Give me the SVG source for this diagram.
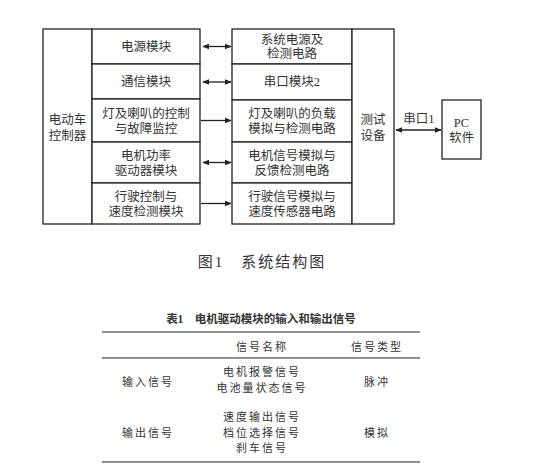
<svg xmlns="http://www.w3.org/2000/svg" width="539" height="476" viewBox="0 0 539 476">
<style>
.b{fill:#fff;stroke:#222;stroke-width:1.3}
.t{font-family:"Liberation Serif","Noto Sans CJK SC",serif;font-size:12.5px;fill:#333;text-anchor:middle}
.tb{font-family:"Liberation Serif","Noto Sans CJK SC",sans-serif;font-size:11px;fill:#333;text-anchor:middle}
.c{stroke:#222;stroke-width:1.3;fill:none}
.r{stroke:#222;stroke-width:1.2}
</style>
<defs>
<marker id="ah" viewBox="0 0 10 10" refX="9" refY="5" markerWidth="7" markerHeight="7" orient="auto-start-reverse" markerUnits="userSpaceOnUse"><path d="M0,1 L10,5 L0,9 z" fill="#222"/></marker>
</defs>
<rect width="539" height="476" fill="#fff"/>
<g id="controller">
<rect class="b" x="43" y="29" width="49" height="195"/>
<text class="t" x="67.5" y="124">电动车</text>
<text class="t" x="67.5" y="140">控制器</text>
</g>
<g id="modules">
<rect class="b" x="92" y="29" width="108" height="35"/>
<text class="t" x="146" y="51">电源模块</text>
<rect class="b" x="92" y="64" width="108" height="35"/>
<text class="t" x="146" y="86">通信模块</text>
<rect class="b" x="92" y="99" width="108" height="43"/>
<text class="t" x="146" y="118">灯及喇叭的控制</text>
<text class="t" x="146" y="133">与故障监控</text>
<rect class="b" x="92" y="142" width="108" height="41"/>
<text class="t" x="146" y="160">电机功率</text>
<text class="t" x="146" y="175">驱动器模块</text>
<rect class="b" x="92" y="183" width="108" height="41"/>
<text class="t" x="146" y="201">行驶控制与</text>
<text class="t" x="146" y="216">速度检测模块</text>
</g>
<g id="circuits">
<rect class="b" x="232" y="29" width="120" height="35"/>
<text class="t" x="292" y="44">系统电源及</text>
<text class="t" x="292" y="58">检测电路</text>
<rect class="b" x="232" y="64" width="120" height="36"/>
<text class="t" x="292" y="86">串口模块2</text>
<rect class="b" x="232" y="100" width="120" height="42"/>
<text class="t" x="292" y="118">灯及喇叭的负载</text>
<text class="t" x="292" y="133">模拟与检测电路</text>
<rect class="b" x="232" y="142" width="120" height="41"/>
<text class="t" x="292" y="160">电机信号模拟与</text>
<text class="t" x="292" y="175">反馈检测电路</text>
<rect class="b" x="232" y="183" width="120" height="41"/>
<text class="t" x="292" y="201">行驶信号模拟与</text>
<text class="t" x="292" y="216">速度传感器电路</text>
</g>
<g id="tester">
<rect class="b" x="352" y="29" width="42" height="195"/>
<text class="t" x="373" y="124">测试</text>
<text class="t" x="373" y="140">设备</text>
</g>
<g id="pc">
<rect class="b" x="442" y="100" width="39" height="59"/>
<text class="t" x="461.5" y="127">PC</text>
<text class="t" x="461.5" y="142">软件</text>
</g>
<g id="connectors">
<line class="c" x1="203" y1="46.5" x2="231" y2="46.5" marker-start="url(#ah)" marker-end="url(#ah)"/>
<line class="c" x1="203" y1="82" x2="231" y2="82" marker-start="url(#ah)" marker-end="url(#ah)"/>
<line class="c" x1="201" y1="120.5" x2="231" y2="120.5" marker-end="url(#ah)"/>
<line class="c" x1="203" y1="162.5" x2="231" y2="162.5" marker-start="url(#ah)" marker-end="url(#ah)"/>
<line class="c" x1="201" y1="203.5" x2="231" y2="203.5" marker-end="url(#ah)"/>
<line class="c" x1="396" y1="130" x2="441" y2="130" marker-start="url(#ah)" marker-end="url(#ah)"/>
<text class="t" x="419" y="123">串口1</text>
</g>
<text class="t" x="262" y="267" style="font-size:15px;letter-spacing:2px">图1　系统结构图</text>
<g id="table">
<text class="tb" x="261" y="323" style="font-weight:bold;font-size:11.5px">表1　电机驱动模块的输入和输出信号</text>
<line class="r" x1="102" y1="332" x2="420" y2="332"/>
<line class="r" x1="102" y1="358" x2="420" y2="358"/>
<line class="r" x1="102" y1="462" x2="420" y2="462"/>
<text class="tb" x="262" y="351" style="letter-spacing:2px">信号名称</text>
<text class="tb" x="377" y="351" style="letter-spacing:2px">信号类型</text>
<text class="tb" x="148" y="386" style="letter-spacing:2px">输入信号</text>
<text class="tb" x="262" y="376" style="letter-spacing:2px">电机报警信号</text>
<text class="tb" x="262" y="392" style="letter-spacing:2px">电池量状态信号</text>
<text class="tb" x="377" y="386" style="letter-spacing:2px">脉冲</text>
<text class="tb" x="148" y="437" style="letter-spacing:2px">输出信号</text>
<text class="tb" x="262" y="421" style="letter-spacing:2px">速度输出信号</text>
<text class="tb" x="262" y="437" style="letter-spacing:2px">档位选择信号</text>
<text class="tb" x="262" y="452" style="letter-spacing:2px">刹车信号</text>
<text class="tb" x="377" y="437" style="letter-spacing:2px">模拟</text>
</g>
</svg>
